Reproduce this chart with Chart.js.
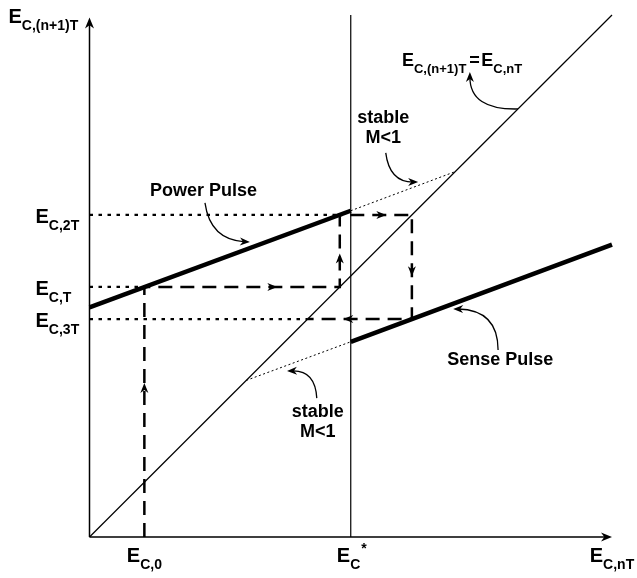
<!DOCTYPE html>
<html>
<head>
<meta charset="utf-8">
<script src="https://cdn.jsdelivr.net/npm/chart.js@4/dist/chart.umd.min.js"></script>
<style>
    html, body { margin: 0; padding: 0; background: #fff; }
    #wrap { width: 637px; height: 578px; }
</style>
</head>
<body>
<div id="wrap"><canvas id="grafico"></canvas></div>
<script>
// line E_C,(n+1)T = E_C,nT
const identityX = [0, 10];
const identityY = [0, 10];

// critical energy E_C*
const criticalX = [5, 5];
const criticalY = [0, 10];

// power pulse map (solid) and its dotted extension
const powerX = [0, 5];
const powerY = [4.4, 6.25];
const powerExtX = [5, 7];
const powerExtY = [6.25, 7];

// sense pulse map (solid) and its dotted extension
const senseX = [5, 10];
const senseY = [3.74, 5.6];
const senseExtX = [3, 5];
const senseExtY = [3, 3.74];

// cobweb path
const cobwebX = [1.05, 1.05, 4.79, 4.79, 6.17, 6.17, 4.175];
const cobwebY = [0, 4.79, 4.79, 6.17, 6.17, 4.175, 4.175];
const cobwebArrowAt = [0.6, 0.66, 0.41, 0.59, 0.55, 0.62];

// tick labels
const yTickValues = [6.17, 4.79, 4.175];
const yTickSubs = ["C,2T", "C,T", "C,3T"];
const yGuideEnd = [4.79, 1.05, 4.175];
const xTickValues = [1.05, 5, 10];
const xTickSubs = ["C,0", "C", "C,nT"];
const xTickSups = ["", "*", ""];

// annotations: text, anchor, and curved pointer (start, control, tip)
const noteTexts = [["Power Pulse"], ["stable", "M<1"], ["Sense Pulse"], ["stable", "M<1"]];
const noteX = [2.18, 5.62, 7.86, 4.37];
const noteY = [6.53, 7.93, 3.30, 2.30];
const pointerStart = [[2.21, 6.40], [5.67, 7.36], [7.82, 3.58], [4.35, 2.66], [8.2, 8.2]];
const pointerCtrl = [[2.31, 5.69], [5.74, 6.80], [7.82, 4.35], [4.32, 3.20], [7.28, 8.18]];
const pointerTip = [[3.07, 5.65], [6.29, 6.80], [6.96, 4.37], [3.78, 3.18], [7.28, 8.91]];

const FONT = '"Liberation Sans", Arial, sans-serif';

function pts(xs, ys) {
    return xs.map(function (x, i) { return { x: x, y: ys[i] }; });
}

function lineSet(xs, ys, width, dash) {
    return {
        data: pts(xs, ys),
        showLine: true,
        borderColor: "#000",
        borderWidth: width,
        borderDash: dash || [],
        pointRadius: 0,
        fill: false,
        clip: false
    };
}

function arrowHead(ctx, x, y, ang, len, half) {
    ctx.save();
    ctx.translate(x, y);
    ctx.rotate(ang);
    ctx.beginPath();
    ctx.moveTo(0, 0);
    ctx.lineTo(-len, -half);
    ctx.lineTo(-len * 0.7, 0);
    ctx.lineTo(-len, half);
    ctx.closePath();
    ctx.fill();
    ctx.restore();
}

// E with subscript (and optional superscript)
function subLabel(ctx, x, y, sub, sup, big, small, align) {
    ctx.font = "bold " + big + "px " + FONT;
    const wE = ctx.measureText("E").width;
    ctx.font = "bold " + small + "px " + FONT;
    const wS = ctx.measureText(sub).width;
    const wP = sup ? ctx.measureText(sup).width : 0;
    const total = wE + Math.max(wS, wP + ctx.measureText(sub).width * 0.9);
    let left = x;
    if (align === "center") left = x - total / 2;
    if (align === "right") left = x - total;
    ctx.textAlign = "left";
    ctx.textBaseline = "alphabetic";
    ctx.font = "bold " + big + "px " + FONT;
    ctx.fillText("E", left, y);
    ctx.font = "bold " + small + "px " + FONT;
    ctx.fillText(sub, left + wE, y + small * 0.5);
    if (sup) ctx.fillText(sup, left + wE + wS + 1, y - big * 0.45);
    return left + wE + wS;
}

const drawExtras = {
    id: "drawExtras",
    afterDatasetsDraw: function (chart) {
        const ctx = chart.ctx;
        const sx = chart.scales.x;
        const sy = chart.scales.y;
        const px = function (v) { return sx.getPixelForValue(v); };
        const py = function (v) { return sy.getPixelForValue(v); };

        ctx.save();
        ctx.fillStyle = "#000";
        ctx.strokeStyle = "#000";

        // axes with arrows
        ctx.lineWidth = 1.5;
        ctx.beginPath();
        ctx.moveTo(px(0), py(0));
        ctx.lineTo(px(0), py(9.95) + 6);
        ctx.moveTo(px(0), py(0));
        ctx.lineTo(px(10) - 6, py(0));
        ctx.stroke();
        arrowHead(ctx, px(0), py(9.95), -Math.PI / 2, 11, 4.5);
        arrowHead(ctx, px(10), py(0), 0, 11, 4.5);

        // arrows along the cobweb
        for (let i = 0; i < cobwebArrowAt.length; i++) {
            const t = cobwebArrowAt[i];
            const x0 = px(cobwebX[i]), y0 = py(cobwebY[i]);
            const x1 = px(cobwebX[i + 1]), y1 = py(cobwebY[i + 1]);
            const ang = Math.atan2(y1 - y0, x1 - x0);
            arrowHead(ctx, x0 + (x1 - x0) * t + Math.cos(ang) * 4, y0 + (y1 - y0) * t + Math.sin(ang) * 4, ang, 10, 4);
        }

        // curved pointers
        ctx.lineWidth = 1.3;
        for (let i = 0; i < pointerStart.length; i++) {
            const s = pointerStart[i], c = pointerCtrl[i], e = pointerTip[i];
            const cx = px(c[0]), cy = py(c[1]), ex = px(e[0]), ey = py(e[1]);
            const ang = Math.atan2(ey - cy, ex - cx);
            ctx.beginPath();
            ctx.moveTo(px(s[0]), py(s[1]));
            ctx.quadraticCurveTo(cx, cy, ex - Math.cos(ang) * 5, ey - Math.sin(ang) * 5);
            ctx.stroke();
            arrowHead(ctx, ex, ey, ang, 10, 4);
        }

        // annotation texts
        ctx.font = "bold 18px " + FONT;
        ctx.textAlign = "center";
        ctx.textBaseline = "alphabetic";
        for (let i = 0; i < noteTexts.length; i++) {
            noteTexts[i].forEach(function (line, k) {
                ctx.fillText(line, px(noteX[i]), py(noteY[i]) + k * 20);
            });
        }

        // y tick labels
        for (let i = 0; i < yTickValues.length; i++) {
            subLabel(ctx, px(0) - 54, py(yTickValues[i]) + 8, yTickSubs[i], "", 20, 14, "left");
        }
        // x tick labels
        for (let i = 0; i < xTickValues.length; i++) {
            subLabel(ctx, px(xTickValues[i]), py(0) + 25, xTickSubs[i], xTickSups[i], 20, 14, "center");
        }
        // axis title on top of y axis
        subLabel(ctx, px(0) - 81, py(9.95) + 5, "C,(n+1)T", "", 20, 14, "left");

        // equation label
        const end = subLabel(ctx, px(5.98), py(9.02), "C,(n+1)T", "", 18, 13, "left");
        ctx.font = "bold 18px " + FONT;
        ctx.textAlign = "left";
        ctx.fillText("=", end + 3, py(9.02));
        subLabel(ctx, end + 15, py(9.02), "C,nT", "", 18, 13, "left");

        ctx.restore();
    }
};

document.addEventListener("DOMContentLoaded", function () {

    const canvas = document.getElementById("grafico");

    const datasets = [
        lineSet(identityX, identityY, 1.2),
        lineSet(criticalX, criticalY, 1.2),
        lineSet(powerX, powerY, 4.5),
        lineSet(powerExtX, powerExtY, 1, [2, 2.5]),
        lineSet(senseX, senseY, 4.5),
        lineSet(senseExtX, senseExtY, 1, [2, 2.5]),
        lineSet(cobwebX, cobwebY, 2.5, [14, 8])
    ];

    yTickValues.forEach(function (v, i) {
        datasets.push(lineSet([0, yGuideEnd[i]], [v, v], 2.2, [3.5, 5.5]));
    });

    new Chart(canvas, {

        type: "scatter",

        data: {
            datasets: datasets
        },

        options: {

            responsive: true,

            maintainAspectRatio: false,

            animation: false,

            layout: {
                padding: { left: 89.5, right: 25, top: 15, bottom: 41 }
            },

            plugins: {
                legend: { display: false },
                tooltip: { enabled: false }
            },

            scales: {
                x: { type: "linear", min: 0, max: 10, display: false },
                y: { type: "linear", min: 0, max: 10, display: false }
            }

        },

        plugins: [drawExtras]

    });

});
</script>
</body>
</html>
